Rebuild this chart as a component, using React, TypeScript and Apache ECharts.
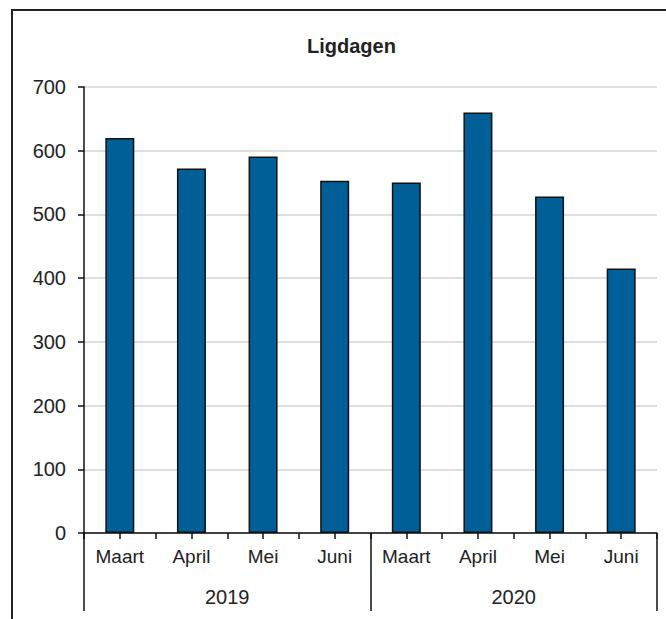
import React, { useEffect, useRef } from "react";
import * as echarts from "echarts";

const months = ["Maart", "April", "Mei", "Juni", "Maart", "April", "Mei", "Juni"];
const years = ["2019", "2020"];
const values = [620, 572, 591, 553, 550, 660, 528, 415];
const tickSlots = ["", "", "", "", "", "", "", "", "", "", "", "", "", "", "", ""];
const yTicks = { min: 0, max: 700, interval: 100 };

const FONT = "'Liberation Sans', Arial, sans-serif";
const TXT = "#222";

export default function App() {
  const ref = useRef<HTMLDivElement>(null);
  useEffect(() => {
    document.body.style.margin = "0";
    const chart = echarts.init(ref.current!, null, { renderer: "svg" });
    chart.setOption({
      animation: false,
      backgroundColor: "#fff",
      title: {
        text: "Ligdagen",
        left: 302,
        top: 31,
        textStyle: { fontFamily: FONT, fontSize: 20, fontWeight: "bold", color: TXT },
      },
      graphic: [
        {
          type: "rect",
          shape: { x: 12, y: 10, width: 700, height: 700 },
          style: { fill: "none", stroke: "#222", lineWidth: 2 },
          silent: true,
        },
      ],
      grid: { left: 84, right: 9, top: 87, bottom: 86, containLabel: false },
      yAxis: {
        type: "value",
        min: yTicks.min,
        max: yTicks.max,
        interval: yTicks.interval,
        axisLine: { show: true, lineStyle: { color: "#111", width: 1.5 } },
        axisTick: { show: true, length: 6, lineStyle: { color: "#111", width: 1.5 } },
        axisLabel: { margin: 18, fontFamily: FONT, fontSize: 20, color: TXT },
        splitLine: { show: true, lineStyle: { color: "#d4d4d4", width: 1.5 } },
      },
      xAxis: [
        {
          type: "category",
          data: months,
          position: "bottom",
          axisLine: { show: true, lineStyle: { color: "#111", width: 1.5 } },
          axisTick: { show: false },
          axisLabel: { margin: 14, fontFamily: FONT, fontSize: 19, color: TXT, interval: 0 },
        },
        {
          type: "category",
          data: tickSlots,
          position: "bottom",
          axisLine: { show: false },
          axisTick: { show: true, length: 6, interval: 0, lineStyle: { color: "#111", width: 1.5 } },
          axisLabel: { show: false },
        },
        {
          type: "category",
          data: years,
          position: "bottom",
          offset: 78,
          axisLine: { show: false },
          axisTick: { show: true, inside: true, length: 78, interval: 0, lineStyle: { color: "#111", width: 1.5 } },
          axisLabel: { inside: true, margin: 4, fontFamily: FONT, fontSize: 20, color: TXT, interval: 0 },
        },
      ],
      series: [
        {
          type: "bar",
          xAxisIndex: 0,
          data: values,
          barWidth: 29,
          itemStyle: { color: "#005F96", borderColor: "#111", borderWidth: 1.5 },
        },
      ],
    });
    return () => chart.dispose();
  }, []);
  return <div ref={ref} style={{ position: "fixed", left: 0, top: 0, width: 666, height: 619 }} />;
}
